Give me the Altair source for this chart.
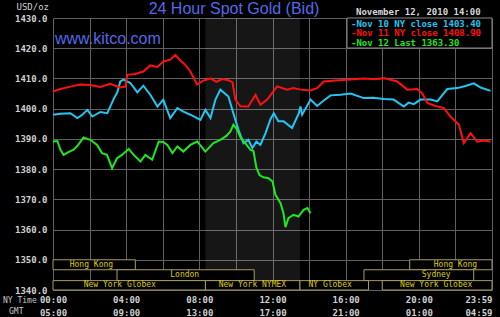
import altair as alt
import pandas as pd

# ---- data (hours NY time, USD/oz) ----
NOV11_HOURS = [0.00, 0.40, 0.95, 1.49, 2.04, 2.59, 3.13, 3.41, 3.68, 3.96, 4.06, 4.50, 4.94, 5.32, 5.71, 6.03,
               6.41, 6.69, 6.96, 7.23, 7.51, 7.88, 8.22, 8.61, 8.93, 9.26, 9.59, 9.81, 9.97, 10.25, 10.68,
               11.07, 11.34, 11.71, 12.25, 12.80, 13.15, 13.53, 14.08, 14.44, 14.80, 15.44, 16.08, 16.99,
               17.63, 18.09, 18.82, 19.37, 19.91, 20.20, 20.46, 20.91, 21.37, 21.73, 22.19, 22.46, 22.83,
               23.19, 23.54, 23.92]
NOV11_PRICE = [1405.7, 1406.5, 1407.3, 1408.0, 1407.8, 1407.2, 1408.2, 1407.6, 1407.0, 1407.3, 1411.2, 1411.5,
               1412.3, 1414.3, 1413.8, 1415.6, 1416.2, 1417.8, 1415.9, 1414.5, 1412.3, 1408.0, 1409.3, 1410.0,
               1408.9, 1409.8, 1409.4, 1408.8, 1403.0, 1400.8, 1400.7, 1404.6, 1401.3, 1403.0, 1407.4, 1406.3,
               1406.8, 1406.3, 1406.0, 1406.8, 1409.0, 1409.3, 1409.6, 1410.0, 1409.7, 1410.1, 1409.0, 1406.3,
               1406.5, 1405.0, 1401.9, 1400.9, 1400.2, 1397.4, 1394.7, 1388.6, 1391.9, 1389.1, 1389.5, 1389.1]

NOV10_HOURS = [0.00, 0.40, 0.95, 1.33, 1.60, 1.88, 2.15, 2.59, 2.97, 3.30, 3.52, 3.68, 3.85, 4.23, 4.61, 4.94,
               5.32, 5.71, 6.03, 6.41, 6.80, 7.13, 7.51, 8.06, 8.33, 8.61, 8.88, 9.15, 9.59, 9.86, 10.14,
               10.41, 10.68, 10.90, 11.12, 11.34, 11.62, 11.89, 12.07, 12.32, 12.61, 13.07, 13.44, 13.53,
               13.62, 14.08, 14.44, 14.79, 15.17, 15.72, 16.27, 16.99, 17.52, 18.09, 18.62, 19.18, 19.44,
               19.73, 20.09, 20.64, 21.01, 21.55, 22.10, 22.55, 23.01, 23.38, 23.92]
NOV10_PRICE = [1398.0, 1398.3, 1398.5, 1396.9, 1398.0, 1399.6, 1397.4, 1398.9, 1398.5, 1403.0, 1405.5, 1409.0,
               1409.6, 1408.5, 1405.4, 1407.6, 1404.6, 1400.7, 1403.0, 1396.9, 1400.2, 1399.0, 1398.0, 1396.3,
               1399.6, 1396.9, 1403.0, 1406.3, 1404.0, 1398.5, 1393.0, 1388.6, 1389.7, 1387.0, 1389.1, 1388.0,
               1391.9, 1396.5, 1398.5, 1395.8, 1395.8, 1393.6, 1398.5, 1400.7, 1398.0, 1403.0, 1400.9, 1402.6,
               1404.4, 1404.6, 1405.0, 1403.5, 1403.6, 1403.2, 1403.0, 1400.7, 1402.0, 1401.5, 1403.0, 1403.0,
               1402.4, 1406.5, 1406.8, 1407.5, 1408.4, 1407.0, 1405.9]

NOV12_HOURS = [0.00, 0.24, 0.40, 0.58, 0.84, 1.13, 1.38, 1.67, 1.88, 2.04, 2.41, 2.68, 2.95, 3.23, 3.50, 3.77,
               4.14, 4.41, 4.78, 5.05, 5.42, 5.78, 6.03, 6.25, 6.53, 6.80, 7.13, 7.51, 7.89, 8.33, 8.77,
               9.15, 9.48, 9.70, 9.86, 10.08, 10.25, 10.52, 10.79, 10.96, 11.12, 11.29, 11.50, 11.78, 12.00,
               12.16, 12.44, 12.60, 12.71, 12.87, 13.15, 13.42, 13.70, 13.91, 14.08]
NOV12_PRICE = [1389.1, 1389.3, 1386.5, 1384.7, 1385.6, 1386.4, 1388.0, 1390.5, 1390.0, 1389.7, 1388.0, 1385.3,
               1384.7, 1380.3, 1383.6, 1384.7, 1386.7, 1384.7, 1382.5, 1384.7, 1383.1, 1389.1, 1389.0, 1388.0,
               1385.3, 1387.5, 1385.8, 1388.0, 1389.1, 1385.8, 1388.6, 1389.7, 1391.0, 1392.5, 1394.7, 1393.0,
               1390.5, 1388.5, 1386.4, 1386.0, 1380.5, 1378.0, 1377.3, 1377.0, 1375.9, 1371.5, 1368.7, 1365.4,
               1360.8, 1363.8, 1364.9, 1364.3, 1366.5, 1367.1, 1365.4]

SERIES_NAMES = ["Nov 10 NY close", "Nov 11 NY close", "Nov 12 Last"]
SERIES_LAST = ["1403.40", "1408.90", "1363.30"]
SERIES_COLORS = ["#22c6f2", "#ff1010", "#1ee81e"]

TICK_HOURS = [0, 4, 8, 12, 16, 20, 24]
NY_TICKS = ["00:00", "04:00", "08:00", "12:00", "16:00", "20:00", "23:59"]
GMT_TICKS = ["05:00", "09:00", "13:00", "17:00", "21:00", "01:00", "04:59"]
GRID_HOURS = list(range(0, 25, 2))
PRICE_TICKS = list(range(1340, 1431, 10))

SHADE_START = [8.333]   # 08:20 NY
SHADE_END = [13.5]      # 13:30 NY

SESSION_NAMES = ["Hong Kong", "Hong Kong", "London", "Sydney",
                 "New York Globex", "New York NYMEX", "NY Globex", "New York Globex"]
SESSION_START = [0.0, 19.5, 3.5, 17.0, 0.0, 8.333, 13.5, 18.0]
SESSION_END = [4.5, 24.0, 11.0, 23.0, 8.333, 13.5, 17.25, 24.0]
SESSION_LABEL_HOUR = [2.1, 22.0, 7.2, 20.95, 3.65, 10.9, 15.15, 20.95]
SESSION_ROW = [0, 0, 1, 1, 2, 2, 2, 2]
ROW_TOP = [1350.0, 1346.7, 1343.1]
ROW_BOTTOM = [1346.7, 1343.1, 1340.0]

TITLE = "24 Hour Spot Gold (Bid)"
SITE = "www.kitco.com"
STAMP = "November 12, 2010 14:00"

# ---- tables ----
frames = []
for name, hrs, prc in [(SERIES_NAMES[0], NOV10_HOURS, NOV10_PRICE),
                       (SERIES_NAMES[1], NOV11_HOURS, NOV11_PRICE),
                       (SERIES_NAMES[2], NOV12_HOURS, NOV12_PRICE)]:
    frames.append(pd.DataFrame({"series": name, "hour": hrs, "price": prc}))
lines_df = pd.concat(frames, ignore_index=True)

sess_df = pd.DataFrame({
    "name": SESSION_NAMES,
    "start": SESSION_START,
    "end": SESSION_END,
    "mx": SESSION_LABEL_HOUR,
    "top": [ROW_TOP[r] for r in SESSION_ROW],
    "bottom": [ROW_BOTTOM[r] for r in SESSION_ROW],
})
shade_df = pd.DataFrame({"start": SHADE_START, "end": SHADE_END,
                         "lo": [PRICE_TICKS[0]], "hi": [PRICE_TICKS[-1]]})

W, H = 439, 272
MONO = "DejaVu Sans Mono"
GRID = "#606060"
BLUE = "#5569e8"

xscale = alt.Scale(domain=[0, 24], nice=False, zero=False)
yscale = alt.Scale(domain=[1340, 1430], nice=False, zero=False)

label_expr = ""
for h, ny, gmt in zip(TICK_HOURS, NY_TICKS, GMT_TICKS):
    label_expr += f"datum.value == {h} ? ['{ny}', '{gmt}'] : "
label_expr += "''"

x_axis = alt.Axis(values=GRID_HOURS, labelExpr=label_expr, grid=True, gridColor=GRID, ticks=False,
                  domain=False, labelFont=MONO, labelFontSize=9, labelFontWeight="bold",
                  labelColor="#d0d0d0", labelPadding=5, labelLineHeight=13, labelOverlap=False,
                  labelFlush=False,
                  labelAlign={"condition": {"test": "datum.value >= 24", "value": "right"}, "value": "center"},
                  title=None)
y_axis = alt.Axis(values=PRICE_TICKS, format=".1f", grid=True, gridColor=GRID, ticks=False, domain=False,
                  labelFont=MONO, labelFontSize=9, labelFontWeight="bold", labelColor="#d0d0d0",
                  labelPadding=6, labelOverlap=False, labelFlush=False,
                  title="USD/oz", titleAngle=0, titleAlign="left", titleBaseline="middle",
                  titleX=-37, titleY=-12, titleFont=MONO, titleFontSize=9, titleFontWeight="normal",
                  titleColor="#d0d0d0")

def X(field):
    return alt.X(field, scale=xscale, axis=x_axis)

def Y(field):
    return alt.Y(field, scale=yscale, axis=y_axis)

shade = alt.Chart(shade_df).mark_rect(fill="#ffffff", opacity=0.085).encode(
    x=X("start:Q"), x2="end:Q", y=Y("lo:Q"), y2="hi:Q")

lines = alt.Chart(lines_df).mark_line(strokeWidth=2, interpolate="linear").encode(
    x=X("hour:Q"), y=Y("price:Q"),
    color=alt.Color("series:N", scale=alt.Scale(domain=SERIES_NAMES, range=SERIES_COLORS), legend=None),
    detail="series:N")

boxes = alt.Chart(sess_df).mark_rect(fill="#000000", stroke="#a89c62", strokeWidth=1).encode(
    x=X("start:Q"), x2="end:Q", y=Y("top:Q"), y2="bottom:Q")

box_text = alt.Chart(sess_df).transform_calculate(
    my="(datum.top + datum.bottom) / 2"
).mark_text(font=MONO, fontSize=8, color="#dccb10", baseline="middle", align="center").encode(
    x=X("mx:Q"), y=Y("my:Q"), text="name:N")

dummy = pd.DataFrame({"a": [0]})

def label(text, x, y, **kw):
    return alt.Chart(dummy).mark_text(text=text, **kw).encode(x=alt.value(x), y=alt.value(y))

legend_box = alt.Chart(dummy).mark_rect(fill="#000000", stroke="#8a8a8a", strokeWidth=1).encode(
    x=alt.value(294), x2=alt.value(W), y=alt.value(0), y2=alt.value(30))

legend_items = []
for i, (nm, last, col) in enumerate(zip(SERIES_NAMES, SERIES_LAST, SERIES_COLORS)):
    legend_items.append(label("-" + nm + " " + last, 298, 5.5 + 9.8 * i, font=MONO, fontSize=9,
                              fontWeight="bold", color=col, align="left", baseline="middle"))

title = label(TITLE, 181, -9, font="Liberation Sans", fontSize=16, color=BLUE, align="center",
              baseline="middle")
site = label(SITE, 2, 21, font="Liberation Sans", fontSize=16, color=BLUE, align="left",
             baseline="middle")
stamp = label(STAMP, 303, -6, font=MONO, fontSize=9, fontWeight="bold", color="#d8d8d8", align="left",
              baseline="middle")
nytime = label("NY Time", -50, 283, font=MONO, fontSize=8, color="#c8c8c8", align="left", baseline="middle")
gmt = label("GMT", -44, 294, font=MONO, fontSize=8, color="#c8c8c8", align="left", baseline="middle")

chart = alt.layer(shade, lines, boxes, box_text, legend_box, *legend_items, title, site, stamp, nytime, gmt
).properties(
    width=W, height=H, autosize="none", background="#000000",
    padding={"left": 53, "top": 18, "right": 8, "bottom": 27}
).configure_view(stroke=None)

chart.save("out.html", embed_options={"renderer": "svg", "actions": False})
